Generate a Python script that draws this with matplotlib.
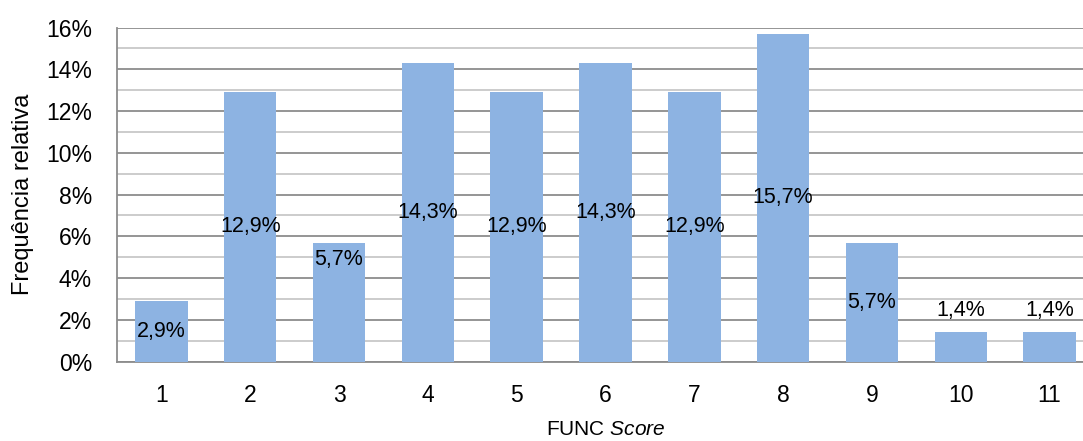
import matplotlib.pyplot as plt
from matplotlib.ticker import MultipleLocator, FuncFormatter

plt.rcParams['font.family'] = ['Liberation Sans', 'DejaVu Sans']
plt.rcParams['mathtext.fontset'] = 'custom'
plt.rcParams['mathtext.rm'] = 'Liberation Sans'
plt.rcParams['mathtext.it'] = 'Liberation Sans:italic'

# dados
scores = [1, 2, 3, 4, 5, 6, 7, 8, 9, 10, 11]
freq = [2.9, 12.9, 5.7, 14.3, 12.9, 14.3, 12.9, 15.7, 5.7, 1.4, 1.4]
rotulos = ["2,9%", "12,9%", "5,7%", "14,3%", "12,9%", "14,3%", "12,9%",
           "15,7%", "5,7%", "1,4%", "1,4%"]
# onde fica o rótulo de cada barra
posicao = ["centro", "centro", "topo", "centro", "centro", "centro", "centro",
           "centro", "centro", "acima", "acima"]

fig = plt.figure(figsize=(10.83, 4.41), dpi=100)
ax = fig.add_axes([117 / 1083, 0.180, (1094 - 117) / 1083, 0.9376 - 0.180])

ax.bar(scores, freq, width=0.59, color='#8DB3E2', zorder=3)

for x, v, txt, p in zip(scores, freq, rotulos, posicao):
    if p == "centro":
        y, va = v / 2, 'center'
    elif p == "topo":
        y, va = v - 0.3, 'top'
    else:
        y, va = v + 0.55, 'bottom'
    ax.text(x, y, txt, ha='center', va=va, fontsize=15.5, color='black', zorder=4)

ax.set_xlim(0.5, 11.5)
ax.set_ylim(0, 16)
ax.set_xticks(scores)
ax.yaxis.set_major_locator(MultipleLocator(2))
ax.yaxis.set_minor_locator(MultipleLocator(1))
ax.yaxis.set_major_formatter(FuncFormatter(lambda v, _: f"{v:.0f}%"))
ax.grid(axis='y', which='major', color='#8C8C8C', linewidth=1.3, zorder=0)
ax.grid(axis='y', which='minor', color='#C8C8C8', linewidth=1.3, zorder=0)
ax.tick_params(axis='both', which='both', length=0, labelsize=16.5)
ax.tick_params(axis='x', pad=16)
ax.tick_params(axis='y', pad=18)

for s in ['top', 'right']:
    ax.spines[s].set_visible(False)
for s in ['left', 'bottom']:
    ax.spines[s].set_color('#8C8C8C')
    ax.spines[s].set_linewidth(1.3)

ax.set_ylabel("Frequência relativa", fontsize=17)
ax.yaxis.set_label_coords((34 - 117) / (1094 - 117), 0.5)
ax.set_xlabel("FUNC $\\mathit{Score}$", fontsize=15)
ax.xaxis.set_label_coords((606 - 117) / (1094 - 117), -0.175)

fig.savefig("out.png", dpi=100)
